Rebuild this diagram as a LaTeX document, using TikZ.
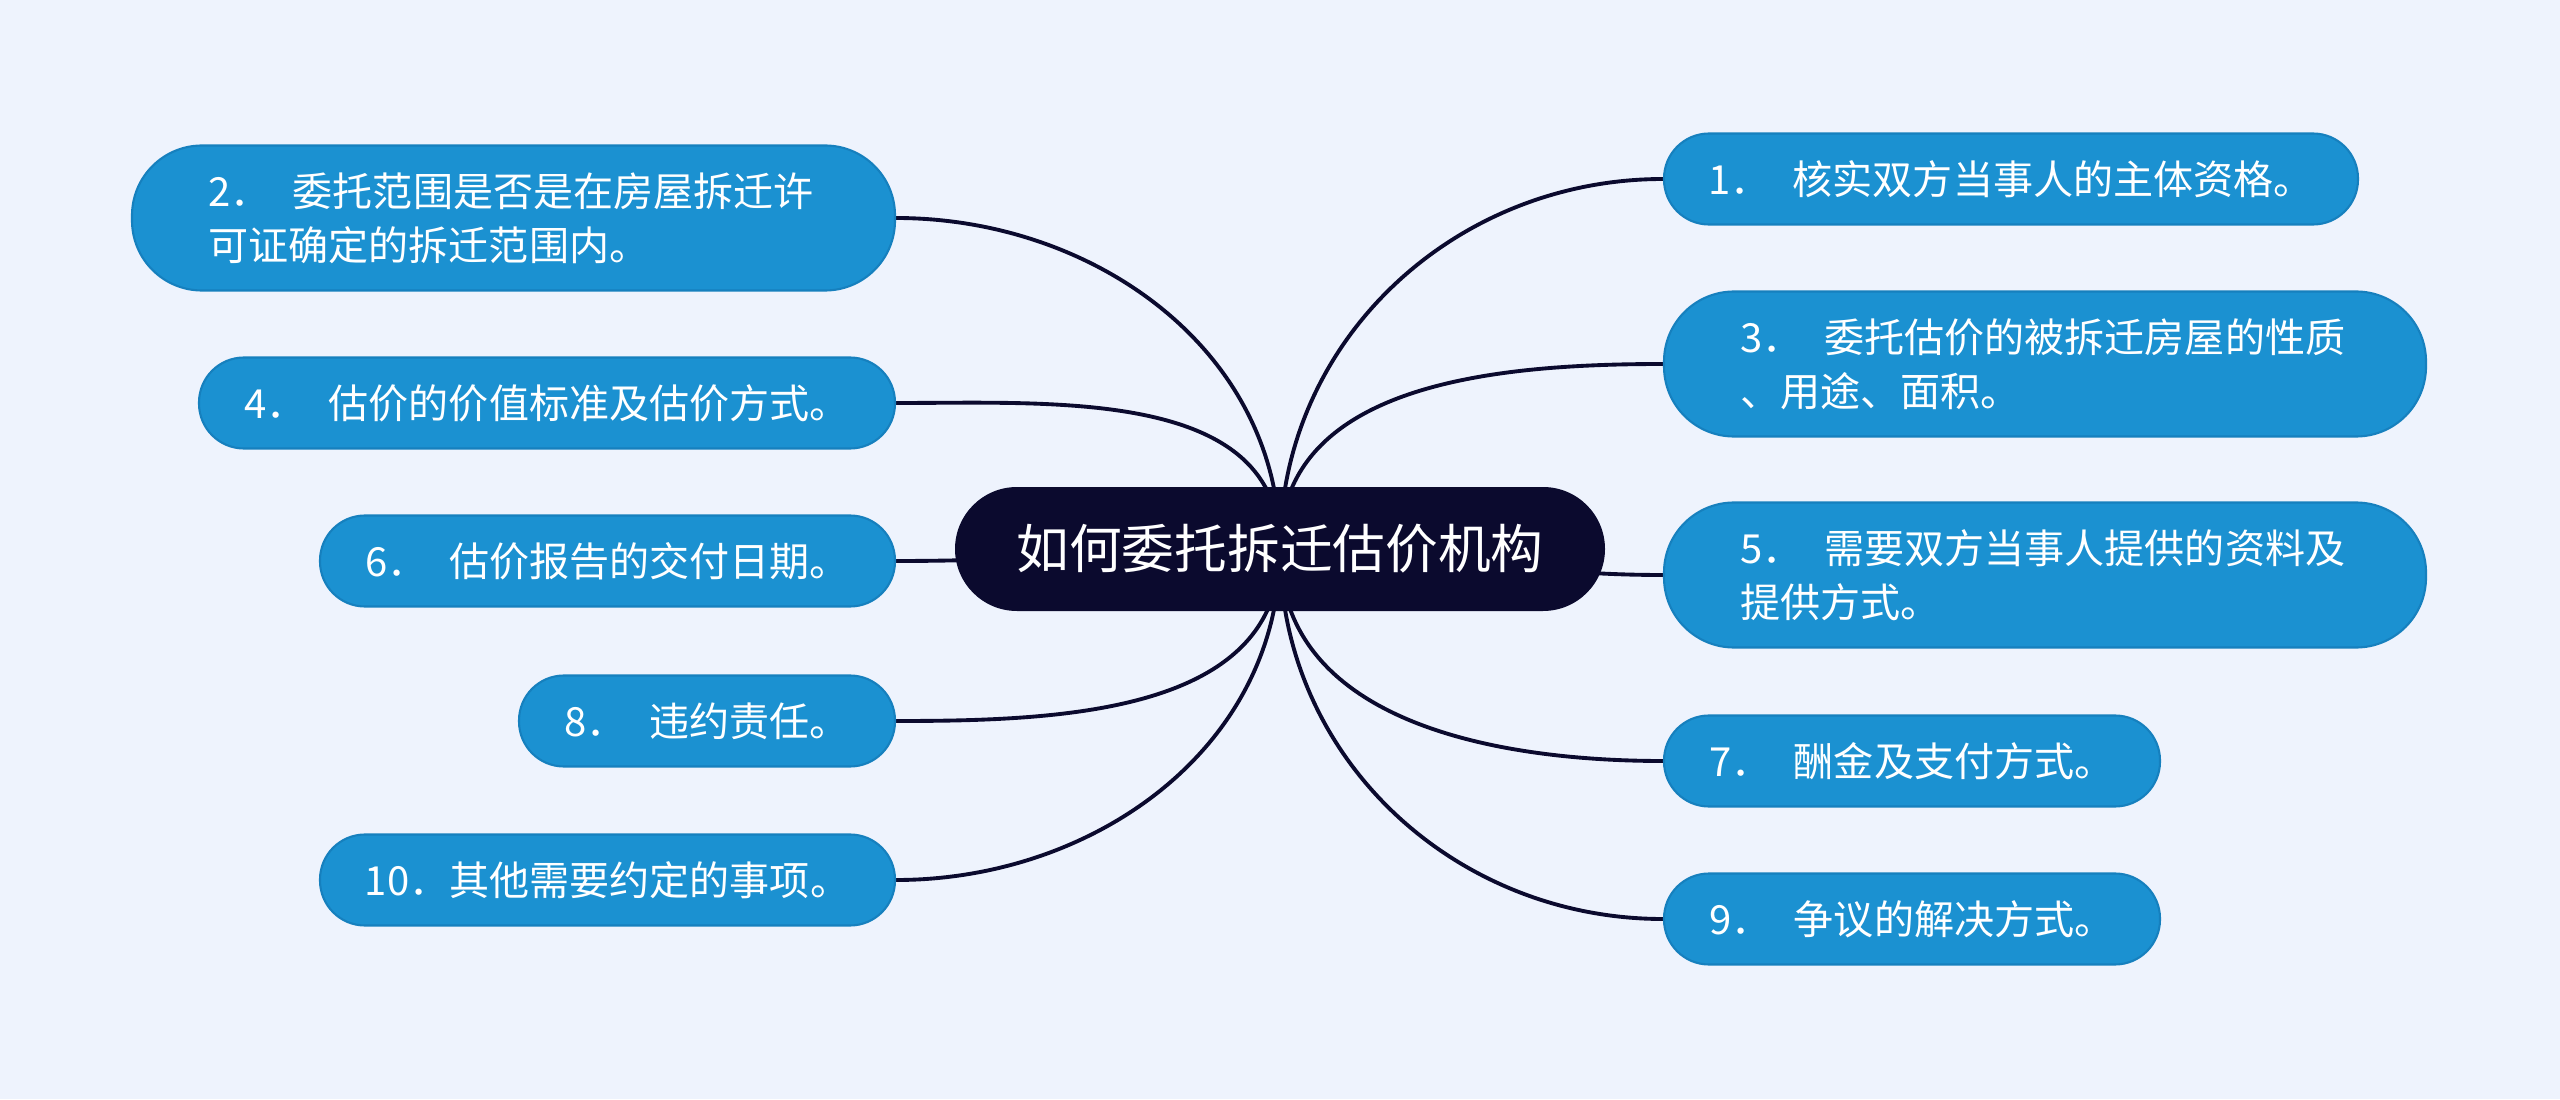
\documentclass[tikz,border=0pt]{standalone}
\usepackage{fontspec}
\setmainfont{Noto Sans CJK SC}
\usetikzlibrary{backgrounds}

\definecolor{bgblue}{RGB}{238,243,253}
\definecolor{leafblue}{RGB}{27,145,209}
\definecolor{leafedge}{RGB}{22,128,190}
\definecolor{rootnavy}{RGB}{11,10,46}

\tikzset{
  root/.style={fill=rootnavy, text=white, rounded corners=0.62cm,
    minimum width=6.5cm, minimum height=1.24cm, inner sep=0pt,
    font=\fontsize{15}{18}\selectfont},
  leaf/.style={draw=leafedge, line width=0.6pt, fill=leafblue, text=white,
    rounded corners=0.45cm, minimum height=0.91cm, inner sep=0pt,
    font=\fontsize{11.4}{15.3}\selectfont},
  leaftwo/.style={leaf, rounded corners=0.7cm, minimum height=1.45cm,
    align=left, text width=6.1cm},
  branch/.style={draw=rootnavy, line width=1.1pt},
}

\begin{document}
\begin{tikzpicture}
  \useasboundingbox (0,0) rectangle (25.6,10.99);
  \node[root] (root) at (12.80,5.50) {如何委托拆迁估价机构};
  % right side
  \node[leaf, minimum width=6.94cm] (n1) at (20.11,9.20) {1．\hspace{.55em}核实双方当事人的主体资格。};
  \node[leaftwo, minimum width=7.62cm] (n3) at (20.45,7.35) {3．\hspace{.55em}委托估价的被拆迁房屋的性质\\、用途、面积。};
  \node[leaftwo, minimum width=7.62cm] (n5) at (20.45,5.24) {5．\hspace{.55em}需要双方当事人提供的资料及\\提供方式。};
  \node[leaf, minimum width=4.96cm] (n7) at (19.12,3.38) {7．\hspace{.55em}酬金及支付方式。};
  \node[leaf, minimum width=4.96cm] (n9) at (19.12,1.80) {9．\hspace{.55em}争议的解决方式。};
  % left side
  \node[leaftwo, minimum width=7.63cm] (n2) at (5.135,8.81) {2．\hspace{.55em}委托范围是否是在房屋拆迁许\\可证确定的拆迁范围内。};
  \node[leaf, minimum width=6.96cm] (n4) at (5.47,6.96) {4．\hspace{.55em}估价的价值标准及估价方式。};
  \node[leaf, minimum width=5.75cm] (n6) at (6.075,5.38) {6．\hspace{.55em}估价报告的交付日期。};
  \node[leaf, minimum width=3.76cm] (n8) at (7.07,3.78) {8．\hspace{.55em}违约责任。};
  \node[leaf, minimum width=5.75cm] (n10) at (6.075,2.19) {10．其他需要约定的事项。};
  \begin{pgfonlayer}{background}
    \fill[bgblue] (0,0) rectangle (25.6,10.99);
    \draw[branch] (root.center) to[out=90, in=180] (n1.west);
    \draw[branch] (root.center) to[out=90, in=180] (n3.west);
    \draw[branch] (root.center) to[out=0, in=180] (n5.west);
    \draw[branch] (root.center) to[out=-90, in=180] (n7.west);
    \draw[branch] (root.center) to[out=-90, in=180] (n9.west);
    \draw[branch] (root.center) to[out=90, in=0] (n2.east);
    \draw[branch] (root.center) to[out=90, in=0] (n4.east);
    \draw[branch] (root.center) to[out=180, in=0] (n6.east);
    \draw[branch] (root.center) to[out=-90, in=0] (n8.east);
    \draw[branch] (root.center) to[out=-90, in=0] (n10.east);
  \end{pgfonlayer}
\end{tikzpicture}
\end{document}
